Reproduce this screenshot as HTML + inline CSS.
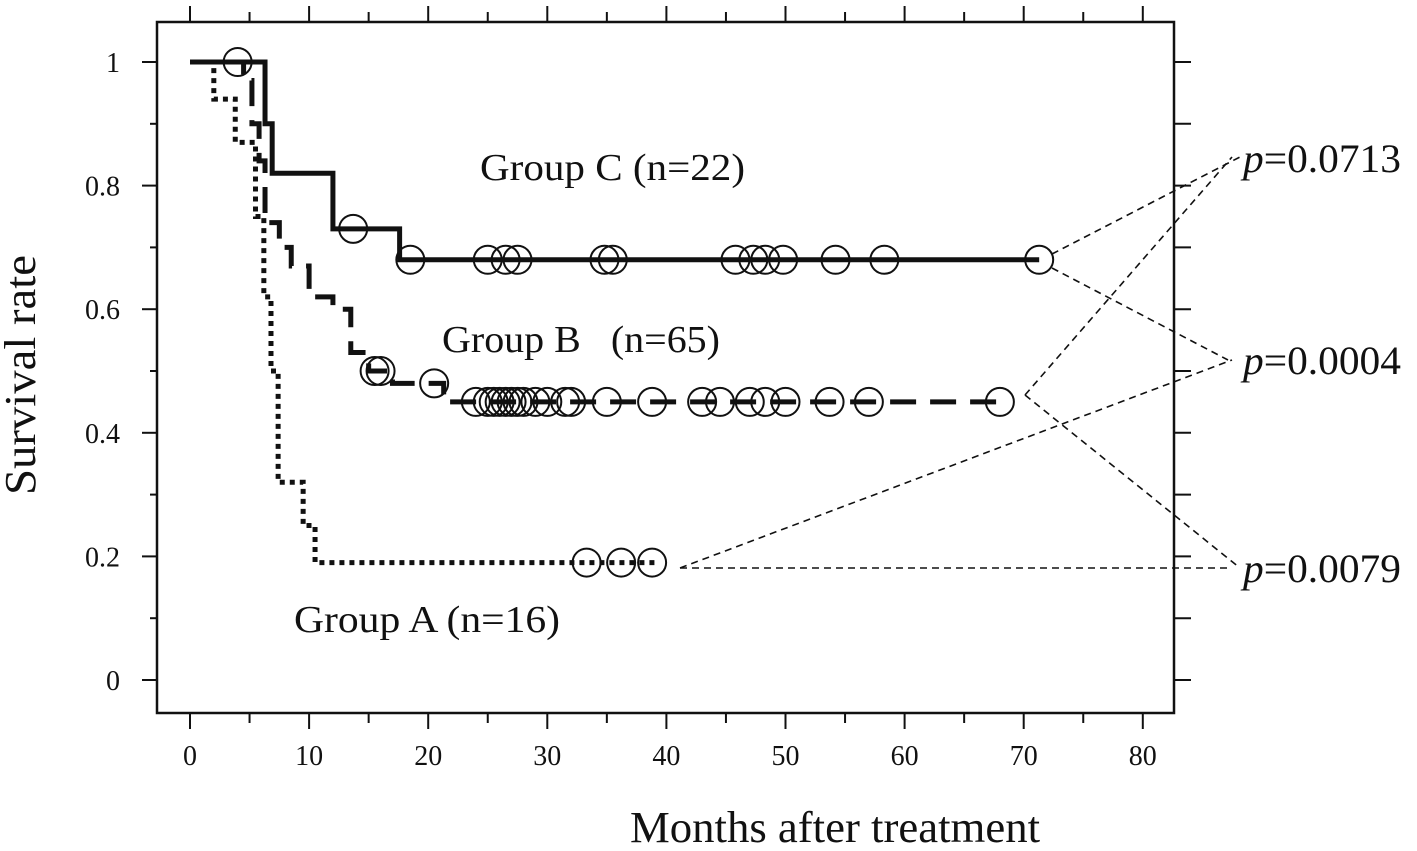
<!DOCTYPE html>
<html><head><meta charset="utf-8"><style>
html,body{margin:0;padding:0;background:#fff}
svg{display:block}
text{font-family:"Liberation Serif",serif;fill:#111}
</style></head><body>
<svg id="chart" width="1417" height="851" viewBox="0 0 1417 851">
<g id="axes"></g>
<g id="series"></g>
<g id="annot"></g>
<text x="35" y="375" font-size="44" text-anchor="middle" textLength="240" lengthAdjust="spacingAndGlyphs" transform="rotate(-90 35 375)">Survival rate</text>
<text x="630" y="842" font-size="44" textLength="410" lengthAdjust="spacingAndGlyphs">Months after treatment</text>
<text x="480" y="180" font-size="38" textLength="265" lengthAdjust="spacingAndGlyphs">Group C (n=22)</text>
<text x="442" y="352" font-size="38" xml:space="preserve" textLength="278" lengthAdjust="spacingAndGlyphs">Group B   (n=65)</text>
<text x="294" y="632" font-size="38" textLength="266" lengthAdjust="spacingAndGlyphs">Group A (n=16)</text>
<text x="1243" y="172" font-size="40" textLength="158" lengthAdjust="spacingAndGlyphs"><tspan font-style="italic">p</tspan>=0.0713</text>
<text x="1243" y="374" font-size="40" textLength="158" lengthAdjust="spacingAndGlyphs"><tspan font-style="italic">p</tspan>=0.0004</text>
<text x="1243" y="582" font-size="40" textLength="158" lengthAdjust="spacingAndGlyphs"><tspan font-style="italic">p</tspan>=0.0079</text>
</svg>
<script>
const xTicks=[0,10,20,30,40,50,60,70,80];
const yTicks=[0,0.2,0.4,0.6,0.8,1];
const yTickLabels=["0","0.2","0.4","0.6","0.8","1"];
// step curves: [month, survival]
const groupCSteps=[[0,1],[6.3,1],[6.3,0.9],[6.9,0.9],[6.9,0.82],[12,0.82],[12,0.73],[17.6,0.73],[17.6,0.68],[71.3,0.68]];
const groupCCensor=[[4,1],[13.7,0.73],[18.5,0.68],[25,0.68],[26.5,0.68],[27.5,0.68],[34.8,0.68],[35.5,0.68],[45.8,0.68],[47.3,0.68],[48.3,0.68],[49.8,0.68],[54.2,0.68],[58.3,0.68],[71.3,0.68]];
const groupBSteps=[[0,1],[4.5,1],[4.5,0.97],[5.2,0.97],[5.2,0.9],[5.8,0.9],[5.8,0.84],[6.3,0.84],[6.3,0.74],[7.5,0.74],[7.5,0.7],[8.5,0.7],[8.5,0.67],[10,0.67],[10,0.62],[12,0.62],[12,0.6],[13.5,0.6],[13.5,0.53],[15,0.53],[15,0.5],[17,0.5],[17,0.48],[21.3,0.48],[21.3,0.45],[68,0.45]];
const groupBCensor=[[15.5,0.5],[16,0.5],[20.5,0.48],[24,0.45],[25,0.45],[25.5,0.45],[26,0.45],[26.5,0.45],[27,0.45],[27.5,0.45],[28,0.45],[29,0.45],[30,0.45],[31.5,0.45],[32,0.45],[35,0.45],[38.8,0.45],[43,0.45],[44.5,0.45],[47,0.45],[48.3,0.45],[50,0.45],[53.7,0.45],[57,0.45],[68,0.45]];
const groupASteps=[[0,1],[2,1],[2,0.94],[3.8,0.94],[3.8,0.87],[5.5,0.87],[5.5,0.75],[6.2,0.75],[6.2,0.62],[6.8,0.62],[6.8,0.5],[7.4,0.5],[7.4,0.32],[9.5,0.32],[9.5,0.25],[10.5,0.25],[10.5,0.19],[39,0.19]];
const groupACensor=[[33.3,0.19],[36.2,0.19],[38.8,0.19]];

const NS="http://www.w3.org/2000/svg";
const L=157,R=1174,T=22,B=713;
const x=m=>190+11.91*m;
const y=v=>680-618*v;
function el(tag,attrs,parent){const e=document.createElementNS(NS,tag);for(const k in attrs)e.setAttribute(k,attrs[k]);parent.appendChild(e);return e;}
const axes=document.getElementById('axes'),series=document.getElementById('series'),annot=document.getElementById('annot');
const frame=el('rect',{x:L,y:T,width:R-L,height:B-T,fill:'none',stroke:'#111','stroke-width':2.5},axes);


for(let m=0;m<=80;m+=5){
  const major=m%10===0;
  const tb=el('line',{x1:x(m),x2:x(m),y1:B,y2:B+(major?16:10),stroke:'#111','stroke-width':2},axes);
  
  
  const tt=el('line',{x1:x(m),x2:x(m),y1:T,y2:T-(major?16:10),stroke:'#111','stroke-width':2},axes);
  
  
}
xTicks.forEach(v=>{
  const t=el('text',{x:x(v),y:765,'font-size':28,'text-anchor':'middle'},axes);t.textContent=v;
  
  
});
for(let i=0;i<=10;i++){
  const v=i/10,major=i%2===0;
  const tl=el('line',{x1:L-(major?15:7),x2:L,y1:y(v),y2:y(v),stroke:'#111','stroke-width':2},axes);
  
  
  const tr=el('line',{x1:R,x2:R+17,y1:y(v),y2:y(v),stroke:'#111','stroke-width':2},axes);
  
  
}
yTicks.forEach((v,i)=>{
  const t=el('text',{x:120,y:y(v)+10,'font-size':28,'text-anchor':'end'},axes);t.textContent=yTickLabels[i];
  
  
});
function drawCurve(steps,censor,dash,name){
  const p=el('polyline',{points:steps.map(s=>x(s[0])+','+y(s[1])).join(' '),fill:'none',stroke:'#111','stroke-width':5,'stroke-dasharray':dash},series);
  
  
  censor.forEach(c=>{
    const ci=el('circle',{cx:x(c[0]),cy:y(c[1]),r:14,fill:'none',stroke:'#111','stroke-width':2},series);
    
    
  });
}
drawCurve(groupCSteps,groupCCensor,'none','group-c');
drawCurve(groupBSteps,groupBCensor,'26 14','group-b');
drawCurve(groupASteps,groupACensor,'5 5','group-a');
const conn=[[1052,254,1240,157],[1052,268,1228,360],[1025,395,1232,157],[1025,395,1240,568],[680,568,1232,360],[680,568,1232,568]];
conn.forEach(c=>{
  const l=el('line',{x1:c[0],y1:c[1],x2:c[2],y2:c[3],stroke:'#111','stroke-width':1.6,'stroke-dasharray':'7 5'},annot);
  
  
});
</script>
</body></html>
